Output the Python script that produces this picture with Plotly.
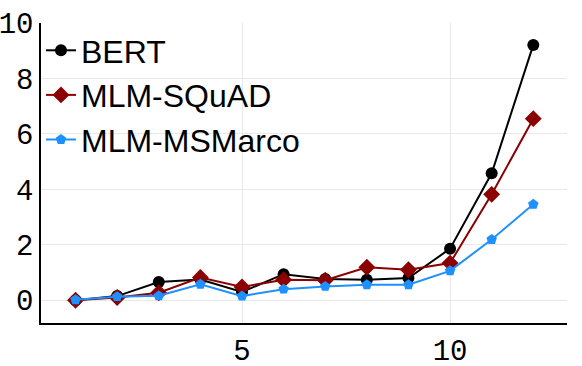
import plotly.graph_objects as go

x_vals = [1, 2, 3, 4, 5, 6, 7, 8, 9, 10, 11, 12]
bert = [0.0, 0.15, 0.66, 0.75, 0.30, 0.94, 0.77, 0.74, 0.80, 1.86, 4.58, 9.21]
mlm_squad = [0.0, 0.10, 0.27, 0.82, 0.48, 0.74, 0.72, 1.19, 1.10, 1.34, 3.82, 6.55]
mlm_msmarco = [0.02, 0.13, 0.16, 0.58, 0.15, 0.40, 0.50, 0.56, 0.56, 1.06, 2.19, 3.46]

series = [
    ("BERT", bert, "black", "circle", 12),
    ("MLM-SQuAD", mlm_squad, "#8B0000", "diamond", 13),
    ("MLM-MSMarco", mlm_msmarco, "#1E90FF", "pentagon", 11),
]

fig = go.Figure()
for name, vals, color, symbol, size in series:
    fig.add_trace(
        go.Scatter(
            x=x_vals,
            y=vals,
            name=name,
            mode="lines+markers",
            line_color=color,
            line_width=2,
            marker_color=color,
            marker_symbol=symbol,
            marker_size=size,
        )
    )

fig.update_layout(
    width=582,
    height=366,
    margin=dict(l=41, r=15, t=23, b=43),
    plot_bgcolor="white",
    paper_bgcolor="white",
    font_family="Liberation Mono",
    showlegend=True,
    legend=dict(
        x=0,
        y=1,
        xanchor="left",
        yanchor="top",
        bgcolor="rgba(0,0,0,0)",
        font=dict(family="Liberation Sans", size=32, color="black"),
        itemwidth=30,
        tracegroupgap=0,
    ),
)
fig.update_xaxes(
    range=[0.17, 12.81],
    dtick=5,
    tick0=0,
    automargin=False,
    showgrid=True,
    gridcolor="#e8e8e8",
    showline=True,
    linecolor="black",
    linewidth=1.5,
    zeroline=False,
    ticks="",
    tickfont=dict(family="Liberation Mono", size=29, color="black"),
)
fig.update_yaxes(
    range=[-0.82, 10],
    dtick=2,
    tick0=0,
    automargin=False,
    showgrid=True,
    gridcolor="#e8e8e8",
    showline=True,
    linecolor="black",
    linewidth=1.5,
    zeroline=False,
    ticks="",
    tickfont=dict(family="Liberation Mono", size=29, color="black"),
)

# drop the browser's default body margin so the figure sits at 0,0
fig.write_html(
    "out.html",
    config={"displayModeBar": False},
    post_script="document.body.style.margin='0';",
)
